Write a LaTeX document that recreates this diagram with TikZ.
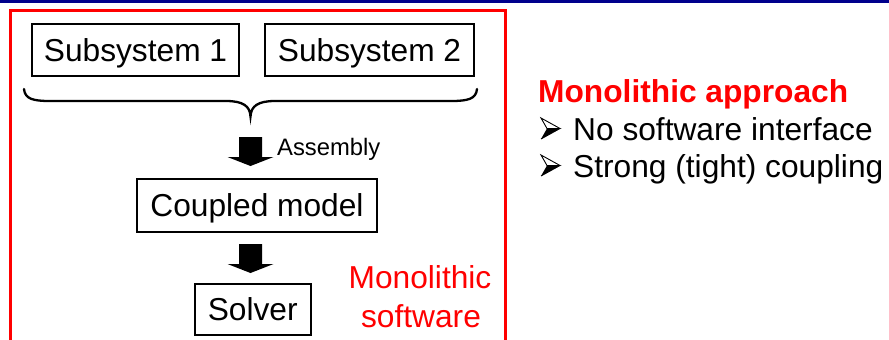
\documentclass[tikz,border=0pt]{standalone}
\usepackage{fontspec}
\setmainfont{Liberation Sans}
\definecolor{barnavy}{RGB}{0,0,140}
\definecolor{framered}{RGB}{255,0,0}
\tikzset{
  bigtext/.style={font=\fontsize{31.7}{38}\selectfont},
  smalltext/.style={font=\fontsize{23.8}{28}\selectfont},
  blockbox/.style={draw=black, line width=2pt, bigtext, inner sep=0pt,
    text height=22.7pt, text depth=0pt},
  blockarrow/.pic={\fill[black] (-11.5,0) -- (11.5,0) -- (11.5,20) -- (23,20)
      -- (0,29) -- (-23,20) -- (-11.5,20) -- cycle;},
  arrowbullet/.pic={
    \fill[black] (0,21) -- (19,10.5) -- (6,10.5) -- cycle;
    \draw[black, line width=0.9pt, line join=miter] (0,0) -- (19,10.5) -- (6,10.5) -- cycle;
    \draw[black, line width=0.9pt, line join=miter] (0,21) -- (19,10.5);
  },
  plain/.style={inner sep=0pt, anchor=base west}
}
\begin{document}
\begin{tikzpicture}[x=1pt, y=-1pt]
  \useasboundingbox (0,0) rectangle (889,340);
  % header bar
  \fill[barnavy] (0,0) rectangle (889,3.2);
  % frame around the monolithic software
  \draw[framered, line width=3pt, line join=miter]
    (10.5,350) -- (10.5,10.5) -- (505,10.5) -- (505,350);

  % blocks
  \node[blockbox, minimum width=207pt, minimum height=52pt] (sub1) at (135.5,50) {Subsystem 1};
  \node[blockbox, minimum width=209pt, minimum height=52pt] (sub2) at (369.5,50) {Subsystem 2};
  \node[blockbox, minimum width=240pt, minimum height=53pt] (coupled) at (257,205.5) {Coupled model};
  \node[blockbox, minimum width=115.5pt, minimum height=51pt] (solver) at (252.75,309.5) {Solver};

  % brace gathering both subsystems
  \coordinate (braceL) at (24,89);
  \coordinate (braceR) at (477,89);
  \coordinate (braceTip) at (250.5,116.5);
  \draw[black, line width=2.3pt, line cap=round]
    (braceL) .. controls (25,99) and (33,101) .. (50,101) -- (226,101)
    .. controls (243,101) and (250,106) .. (braceTip)
    .. controls (251,106) and (258,101) .. (275,101) -- (451,101)
    .. controls (468,101) and (476,99) .. (braceR);

  % block arrows
  \pic at (250.5,137) {blockarrow};
  \pic at (250.5,244) {blockarrow};
  \node[plain, smalltext] (assembly) at (277,155) {Assembly};

  \node[inner sep=0pt, anchor=base, bigtext, text=framered] (mono1) at (420,288) {Monolithic};
  \node[inner sep=0pt, anchor=base, bigtext, text=framered] (mono2) at (421,327) {software};

  % summary on the right
  \node[plain, text=framered, font=\fontsize{31.7}{38}\selectfont\bfseries] (title) at (538,102) {Monolithic approach};
  \pic at (541,118) {arrowbullet};
  \node[plain, bigtext] (item1) at (573,140) {No software interface};
  \pic at (541,155) {arrowbullet};
  \node[plain, bigtext] (item2) at (573,177) {Strong (tight) coupling};
\end{tikzpicture}
\end{document}
